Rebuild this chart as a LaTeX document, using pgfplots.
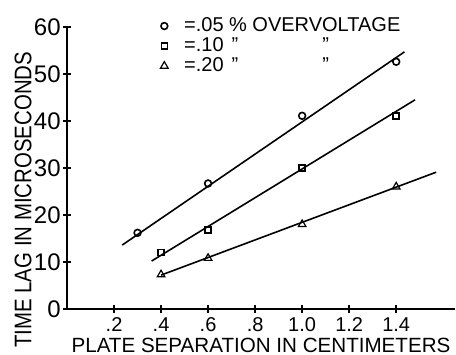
\documentclass[border=0pt]{standalone}
\usepackage{fontspec}
\setmainfont{Liberation Sans}
\usepackage{pgfplots}
\pgfplotsset{compat=1.18}
\begin{document}
\begin{tikzpicture}
\begin{axis}[
  scale only axis,
  width=194pt, height=141pt,
  xmin=0, xmax=1.65, ymin=0, ymax=60,
  axis lines=left,
  axis line style={line width=0.9pt, -},
  xtick={0.2,0.4,0.6,0.8,1.0,1.2,1.4},
  xticklabels={.2,.4,.6,.8,1.0,1.2,1.4},
  ytick={0,10,20,30,40,50,60},
  yticklabels={0,10,20,30,40,50,60},
  tick align=center,
  major tick length=4pt,
  tick style={line width=0.8pt, black},
  xticklabel style={font=\fontsize{10}{12}\selectfont, inner sep=1pt, yshift=-1pt},
  yticklabel style={font=\fontsize{12}{14}\selectfont, inner sep=1pt},
  xlabel={\fontsize{10.3}{12}\selectfont PLATE SEPARATION IN CENTIMETERS},
  xlabel style={at={(axis description cs:0.5,-0.128)}, anchor=center},
  ylabel={\scalebox{0.85}[1]{\fontsize{12}{14}\selectfont TIME LAG IN MICROSECONDS}},
  ylabel style={at={(axis description cs:-0.113,0.387)}, anchor=center, inner sep=0pt},
  clip=false,
  legend style={draw=none, fill=none, at={(axis description cs:0.24,1.049)}, anchor=north west,
    font=\fontsize{10}{12}\selectfont, row sep=-2.5pt, inner sep=0pt},
  legend cell align=left,
  legend image code/.code={\draw[#1] plot coordinates {(0.15cm,0cm)};},
]
\addplot[only marks, mark=o, mark size=1.7pt, line width=0.8pt] coordinates {(0.3,16.2) (0.6,26.7) (1.0,41.1) (1.4,52.6)};
\addlegendentry{\hspace{6pt}=.05 \% OVERVOLTAGE}
\addplot[only marks, mark=square, mark size=1.5pt, line width=0.8pt] coordinates {(0.4,12) (0.6,16.8) (1.0,30) (1.4,41)};
\addlegendentry{\hspace{6pt}=.10\hspace{4pt}"\hspace{42pt}"}
\addplot[only marks, mark=triangle, mark size=2.2pt, mark options={line width=0.6pt}, line width=0.8pt] coordinates {(0.4,7.3) (0.6,10.8) (1.0,18) (1.4,26)};
\addlegendentry{\hspace{6pt}=.20\hspace{4pt}"\hspace{42pt}"}
\addplot[forget plot, line width=0.8pt] coordinates {(0.235,13.6) (1.435,54.7)};
\addplot[forget plot, line width=0.8pt] coordinates {(0.36,10.2) (1.48,44.5)};
\addplot[forget plot, line width=0.8pt] coordinates {(0.4,7.2) (1.57,29.1)};
\coordinate (bbll) at (axis description cs:-0.1727,-0.163);
\coordinate (bbur) at (axis description cs:1.0026,1.0957);
\end{axis}
\pgfresetboundingbox
\path (bbll) rectangle (bbur);
\end{tikzpicture}
\end{document}
